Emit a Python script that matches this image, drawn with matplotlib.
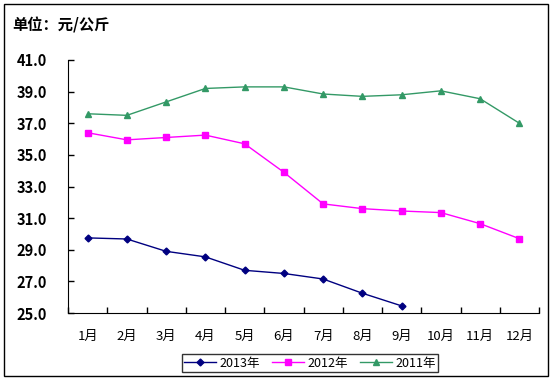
import matplotlib.pyplot as plt
from matplotlib.patches import Rectangle

plt.rcParams['font.family'] = ['Noto Sans CJK SC', 'DejaVu Sans']

months = ['1月', '2月', '3月', '4月', '5月', '6月', '7月', '8月', '9月', '10月', '11月', '12月']
y2013 = [29.75, 29.68, 28.9, 28.55, 27.7, 27.5, 27.15, 26.25, 25.45]
y2012 = [36.4, 35.95, 36.1, 36.25, 35.7, 33.9, 31.9, 31.6, 31.45, 31.35, 30.65, 29.7]
y2011 = [37.6, 37.5, 38.35, 39.2, 39.3, 39.3, 38.85, 38.7, 38.8, 39.05, 38.55, 37.0]
yticks = [25.0, 27.0, 29.0, 31.0, 33.0, 35.0, 37.0, 39.0, 41.0]

fig = plt.figure(figsize=(5.53, 3.82), dpi=100)
ax = fig.add_axes([68/553, 1-313/382, 471/553, 253/382])

ax.plot(range(len(y2013)), y2013, color='#000080', marker='D', markersize=3.5, lw=1, label='2013年')
ax.plot(range(len(y2012)), y2012, color='#FF00FF', marker='s', markersize=5, lw=1, label='2012年')
ax.plot(range(len(y2011)), y2011, color='#339966', marker='^', markersize=5, lw=1, label='2011年')

ax.set_xlim(-0.5, 11.5)
ax.set_ylim(25, 41)
ax.set_yticks(yticks)
ax.set_yticklabels(['%.1f' % v for v in yticks], fontsize=10.5, fontweight='bold')
ax.set_xticks([i - 0.5 for i in range(13)])
ax.set_xticklabels([])
ax.set_xticks(range(12), minor=True)
ax.set_xticklabels(months, minor=True, fontsize=9.5)
ax.tick_params(axis='x', which='minor', length=0, pad=12)
ax.tick_params(axis='both', which='major', direction='in', length=4, width=1)
ax.tick_params(axis='y', pad=15)
for s in ['top', 'right']:
    ax.spines[s].set_visible(False)

fig.text(12/553, 1-25/382, '单位：元/公斤', fontsize=11, fontweight='bold', va='center')

leg = fig.legend(loc='center', bbox_to_anchor=(310/553, 1-363/382), ncol=3, fontsize=9,
                 frameon=True, fancybox=False, edgecolor='black', borderpad=0.2,
                 handlelength=2.5, columnspacing=1.0, handletextpad=0.3)
leg.get_frame().set_linewidth(1)

fig.patches.append(Rectangle((4/553, 1-376/382), 544/553, 372/382, transform=fig.transFigure,
                             fill=False, edgecolor='black', lw=1))

fig.savefig('out.png', dpi=100)
